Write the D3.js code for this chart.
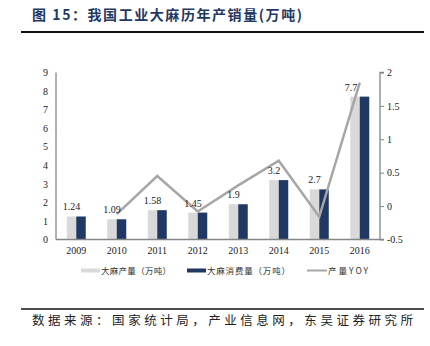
<!DOCTYPE html>
<html><head><meta charset="utf-8">
<script src="https://cdn.jsdelivr.net/npm/d3@7"></script>
<style>body{margin:0;background:#fff;}svg{display:block;}</style>
</head><body>
<svg id="c" width="430" height="346"></svg>
<script>
const years = ["2009","2010","2011","2012","2013","2014","2015","2016"];
const production = [1.24, 1.09, 1.58, 1.45, 1.9, 3.2, 2.7, 7.7];
const consumption = [1.24, 1.09, 1.58, 1.45, 1.9, 3.2, 2.7, 7.7];
const yoy = [null, -0.12, 0.45, -0.08, 0.31, 0.68, -0.16, 1.85];
const labels = ["1.24","1.09","1.58","1.45","1.9","3.2","2.7","7.7"];
const leftTicks = [0,1,2,3,4,5,6,7,8,9];
const rightTicks = [-0.5,0,0.5,1,1.5,2];

const svg = d3.select("#c");
const serif = "'Liberation Serif','Times New Roman',serif";
const cjk = "'Noto Sans CJK SC',sans-serif";

// title
svg.append("text").attr("x",32).attr("y",20).attr("font-family",cjk).attr("font-weight","bold")
  .attr("font-size",14).attr("fill","#1f3864").attr("textLength",270).attr("lengthAdjust","spacing")
  .text("图 15：我国工业大麻历年产销量(万吨)");
svg.append("line").attr("x1",21).attr("x2",424).attr("y1",32).attr("y2",32).attr("stroke","#111").attr("stroke-width",2);

const x = d3.scaleBand().domain(years).range([56,380]).padding(0);
const yL = d3.scaleLinear().domain([0,9]).range([239.5,72.5]);
const yR = d3.scaleLinear().domain([-0.5,2]).range([239.5,72.5]);
const bw = 9.5;

// bars
svg.append("g").selectAll("rect").data(years).join("rect")
  .attr("x",d=>x(d)+x.bandwidth()/2-bw).attr("width",bw)
  .attr("y",(d,i)=>yL(production[i])).attr("height",(d,i)=>yL(0)-yL(production[i]))
  .attr("fill","#d9d9d9");
svg.append("g").selectAll("rect").data(years).join("rect")
  .attr("x",d=>x(d)+x.bandwidth()/2).attr("width",bw)
  .attr("y",(d,i)=>yL(consumption[i])).attr("height",(d,i)=>yL(0)-yL(consumption[i]))
  .attr("fill","#1f3864");

// axes
const axL = svg.append("g").attr("transform","translate(56,0)")
  .call(d3.axisLeft(yL).tickValues(leftTicks).tickSize(0).tickPadding(8).tickFormat(d3.format("d")));
const axR = svg.append("g").attr("transform","translate(380,0)")
  .call(d3.axisRight(yR).tickValues(rightTicks).tickSize(4).tickPadding(3).tickFormat(d=>String(d)));
const axB = svg.append("g").attr("transform","translate(0,239.5)")
  .call(d3.axisBottom(x).tickSize(0).tickPadding(7));
[axL,axR,axB].forEach(a=>{
  a.select(".domain").attr("stroke","#868686").attr("stroke-width",1.3);
  a.selectAll(".tick line").attr("stroke","#868686");
  a.selectAll("text").attr("font-family",serif).attr("font-size",10).attr("fill","#222");
});
axB.select(".domain").attr("d","M56,0H380");
axL.select(".domain").attr("d","M0,72.5V239.5");
axR.select(".domain").attr("d","M4,72.5H0V239.5H4");

// yoy line
const line = d3.line().defined(d=>d.v!==null).x(d=>x(d.y)+x.bandwidth()/2).y(d=>yR(d.v));
svg.append("path").datum(years.map((y,i)=>({y,v:yoy[i]})))
  .attr("d",line).attr("fill","none").attr("stroke","#a6a6a6").attr("stroke-width",2.5);

// labels
svg.append("g").selectAll("text").data(years).join("text")
  .attr("x",(d,i)=>x(d)+x.bandwidth()/2-bw/2-(i===7?4:0))
  .attr("y",(d,i)=>yL(production[i])-6)
  .attr("text-anchor","middle").attr("font-family",serif).attr("font-size",10).attr("fill","#222")
  .text((d,i)=>labels[i]);

// legend
const lg = svg.append("g").attr("font-family",cjk).attr("font-size",8.5).attr("fill","#333");
lg.append("rect").attr("x",81).attr("y",268.5).attr("width",19).attr("height",4).attr("fill","#d9d9d9");
lg.append("text").attr("x",101).attr("y",273.5).attr("textLength",70).attr("lengthAdjust","spacing").text("大麻产量（万吨）");
lg.append("rect").attr("x",187).attr("y",268.5).attr("width",19).attr("height",4).attr("fill","#1f3864");
lg.append("text").attr("x",207).attr("y",273.5).attr("textLength",83).attr("lengthAdjust","spacing").text("大麻消费量（万吨）");
lg.append("line").attr("x1",307).attr("x2",327).attr("y1",270.5).attr("y2",270.5).attr("stroke","#a6a6a6").attr("stroke-width",2);
lg.append("text").attr("x",328).attr("y",273.5).attr("textLength",40).attr("lengthAdjust","spacing").text("产量YOY");

// source
svg.append("line").attr("x1",21).attr("x2",424).attr("y1",309).attr("y2",309).attr("stroke","#111").attr("stroke-width",1.5);
svg.append("text").attr("x",32).attr("y",325).attr("font-family",cjk).attr("font-size",12.5).attr("fill","#222")
  .attr("textLength",381).attr("lengthAdjust","spacing")
  .text("数据来源：国家统计局，产业信息网，东吴证券研究所");
</script>
</body></html>
